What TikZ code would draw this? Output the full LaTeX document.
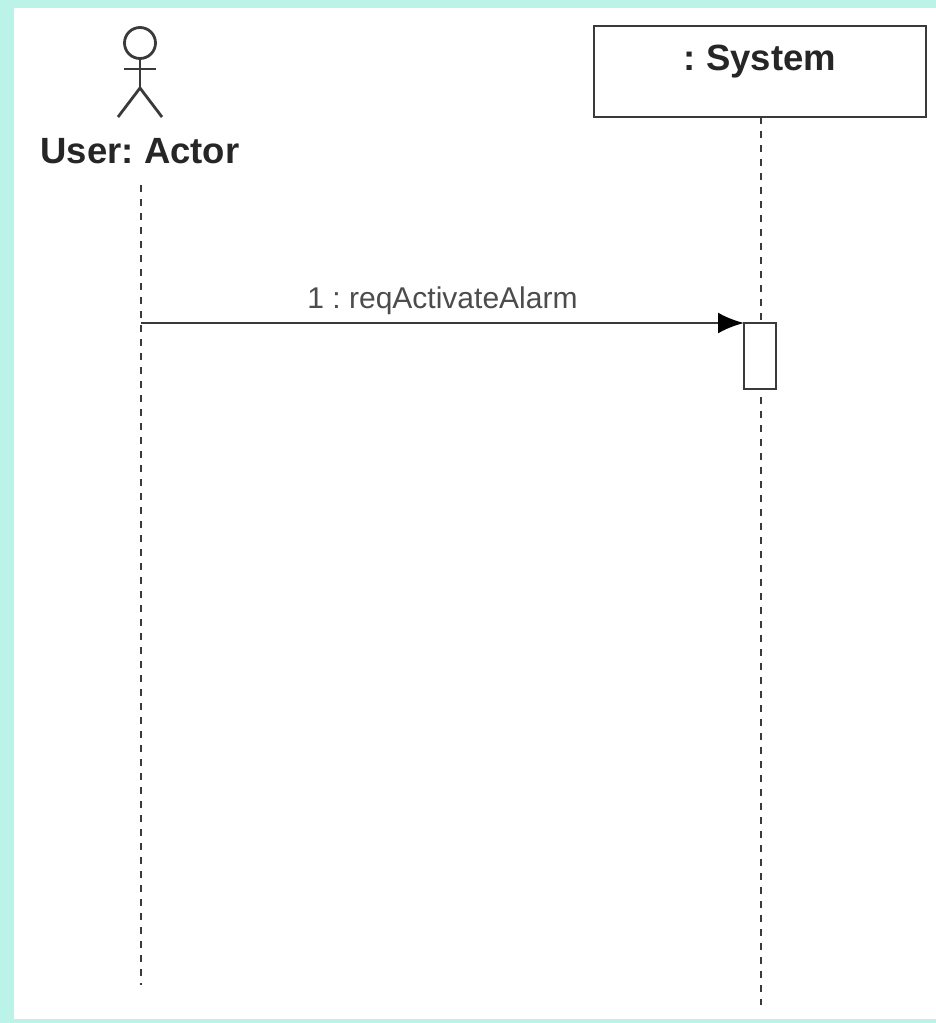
\documentclass[tikz,border=0pt]{standalone}
\usepackage{fontspec}
\setmainfont{Liberation Sans}
\usetikzlibrary{arrows.meta}
\definecolor{pagebg}{HTML}{BBF3E9}
\definecolor{inkline}{HTML}{3A3A3A}
\frenchspacing
\tikzset{
  lifeline/.style={draw=inkline,line width=2.6pt,dash pattern=on 7pt off 7pt},
  stick/.style={draw=inkline,line width=2.8pt},
  objbox/.style={draw=inkline,line width=2.8pt,fill=white,minimum width=332pt,minimum height=91pt,inner sep=0pt,outer sep=0pt},
  actbox/.style={draw=inkline,line width=2.8pt,fill=white,minimum width=32pt,minimum height=66pt,inner sep=0pt,outer sep=0pt},
  title/.style={font=\fontsize{36.5}{40}\selectfont\bfseries,text=black!85,inner sep=0pt},
  msg/.style={font=\fontsize{30}{34}\selectfont,text=black!70,inner sep=0pt}
}
\begin{document}
\begin{tikzpicture}[x=1pt,y=-1pt]
            \useasboundingbox (0,0) rectangle (936,1023);
            \fill [pagebg](0,0) rectangle (936,1023);
            \fill [white](14,8) rectangle (936,1019);
            %actor
            \node [stick,circle,minimum size=31pt,inner sep=0pt,outer sep=0pt] (head) at (140,43) {};
            \coordinate (hip) at (140,88);
            \coordinate (armL) at (124,69);
            \coordinate (armR) at (156,69);
            \coordinate (footL) at (118,117);
            \coordinate (footR) at (162,117);
            \draw [stick] (head.south) -- (hip);
            \draw [stick] (armL) -- (armR);
            \draw [stick] (footL) -- (hip) -- (footR);
            \node [title] (user) at (140,151) {User: Actor};
            %system
            \node [objbox] (system) at (760,71.5) {};
            \node [title] (systemlabel) at (760,62) {: System};
            %lifelines
            \coordinate (userTop) at (141,185);
            \coordinate (userEnd) at (141,985);
            \coordinate (systemEnd) at (761,1005);
            \draw [lifeline] (userTop) -- (userEnd);
            \draw [lifeline] (system.south -| systemEnd) -- (systemEnd);
            %message
            \node [actbox] (act) at (760,356) {};
            \coordinate (msgStart) at (141,323);
            \draw [stick,-{Latex[length=26pt,width=21pt,black]}] (msgStart) -- (act.north west) node [msg,midway,above=7pt] (msglabel) {1 : reqActivateAlarm};
\end{tikzpicture}
\end{document}
